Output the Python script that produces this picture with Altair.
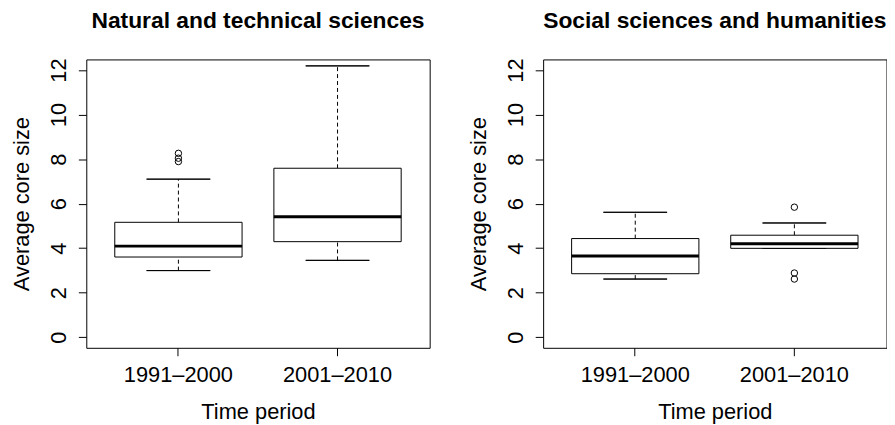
import altair as alt
import pandas as pd

FONT = "Liberation Sans"

periods = ["1991–2000", "2001–2010"]

# Natural and technical sciences
nt_lower = [2.99, 3.45]
nt_q1 = [3.60, 4.29]
nt_median = [4.09, 5.41]
nt_q3 = [5.16, 7.59]
nt_upper = [7.10, 12.19]
nt_out_period = ["1991–2000", "1991–2000", "1991–2000"]
nt_out_value = [8.26, 8.04, 7.89]

# Social sciences and humanities
ss_lower = [2.61, 3.99]
ss_q1 = [2.85, 3.99]
ss_median = [3.65, 4.20]
ss_q3 = [4.43, 4.58]
ss_upper = [5.61, 5.13]
ss_out_period = ["2001–2010", "2001–2010", "2001–2010"]
ss_out_value = [5.84, 2.88, 2.61]

y_ticks = [0, 2, 4, 6, 8, 10, 12]

PLOT_W = 346.5
PLOT_H = 291


def panel(title, lower, q1, med, q3, upper, out_p, out_v):
    stats = pd.DataFrame({"period": periods, "lower": lower, "q1": q1,
                          "median": med, "q3": q3, "upper": upper})
    outs = pd.DataFrame({"period": out_p, "value": out_v})

    xscale = alt.Scale(domain=periods, paddingInner=0, paddingOuter=0.079)
    yscale = alt.Scale(domain=[-0.48, 12.48], nice=False, zero=False)

    xaxis = alt.Axis(title="Time period", labelAngle=0, domain=False,
                     ticks=True, tickSize=8, tickColor="black", tickWidth=1,
                     labelFont=FONT, labelFontSize=22, labelColor="black",
                     labelBaseline="alphabetic", labelPadding=26,
                     titleFont=FONT, titleFontSize=22, titleFontWeight="normal",
                     titleColor="black", titleBaseline="alphabetic",
                     titleX=PLOT_W / 2, titleY=71, titleAlign="center",
                     grid=False)
    yaxis = alt.Axis(title="Average core size", values=y_ticks, domain=False,
                     tickSize=8, tickColor="black", tickWidth=1,
                     labelAngle=270, labelAlign="center", labelBaseline="alphabetic",
                     labelPadding=13, labelFont=FONT, labelFontSize=22,
                     labelColor="black", titleFont=FONT, titleFontSize=22,
                     titleFontWeight="normal", titleColor="black",
                     titleAngle=270, titleAlign="center", titleBaseline="alphabetic",
                     titleX=-58, titleY=PLOT_H / 2, grid=False)

    x = alt.X("period:N", scale=xscale, axis=xaxis, sort=periods, title="Time period")

    def y(field):
        return alt.Y(field, scale=yscale, axis=yaxis, title="Average core size")

    base = alt.Chart(stats)
    whisk_hi = base.mark_rule(color="black", strokeWidth=1, strokeDash=[4, 3]).encode(
        x=x, y=y("q3:Q"), y2="upper:Q")
    whisk_lo = base.mark_rule(color="black", strokeWidth=1, strokeDash=[4, 3]).encode(
        x=x, y=y("lower:Q"), y2="q1:Q")
    cap_hi = base.mark_bar(width={"band": 0.4}, fill=None, stroke="black", strokeWidth=1).encode(
        x=x, y=y("upper:Q"), y2="upper:Q")
    cap_lo = base.mark_bar(width={"band": 0.4}, fill=None, stroke="black", strokeWidth=1).encode(
        x=x, y=y("lower:Q"), y2="lower:Q")
    box = base.mark_bar(width={"band": 0.8}, fill="white", stroke="black", strokeWidth=1).encode(
        x=x, y=y("q1:Q"), y2="q3:Q")
    median = base.mark_bar(width={"band": 0.8}, fill=None, stroke="black", strokeWidth=3).encode(
        x=x, y=y("median:Q"), y2="median:Q")
    outliers = alt.Chart(outs).mark_point(shape="circle", filled=False, color="black",
                                          strokeWidth=1, size=42, opacity=1).encode(
        x=x, y=y("value:Q"))

    return alt.layer(whisk_hi, whisk_lo, cap_hi, cap_lo, box, median, outliers).properties(
        width=PLOT_W, height=PLOT_H,
        title=alt.TitleParams(title, font=FONT, fontSize=23, fontWeight="bold",
                              color="black", anchor="middle", baseline="alphabetic",
                              offset=7))


left = panel("Natural and technical sciences", nt_lower, nt_q1, nt_median, nt_q3,
             nt_upper, nt_out_period, nt_out_value)
right = panel("Social sciences and humanities", ss_lower, ss_q1, ss_median, ss_q3,
              ss_upper, ss_out_period, ss_out_value)

chart = alt.hconcat(left, right, spacing=114, bounds="flush").properties(
    padding={"left": 2, "top": 0, "right": 0, "bottom": 0}
).configure(background="white").configure_view(stroke="black", strokeWidth=1)

chart.save("out.html", embed_options={"renderer": "svg", "actions": False})
